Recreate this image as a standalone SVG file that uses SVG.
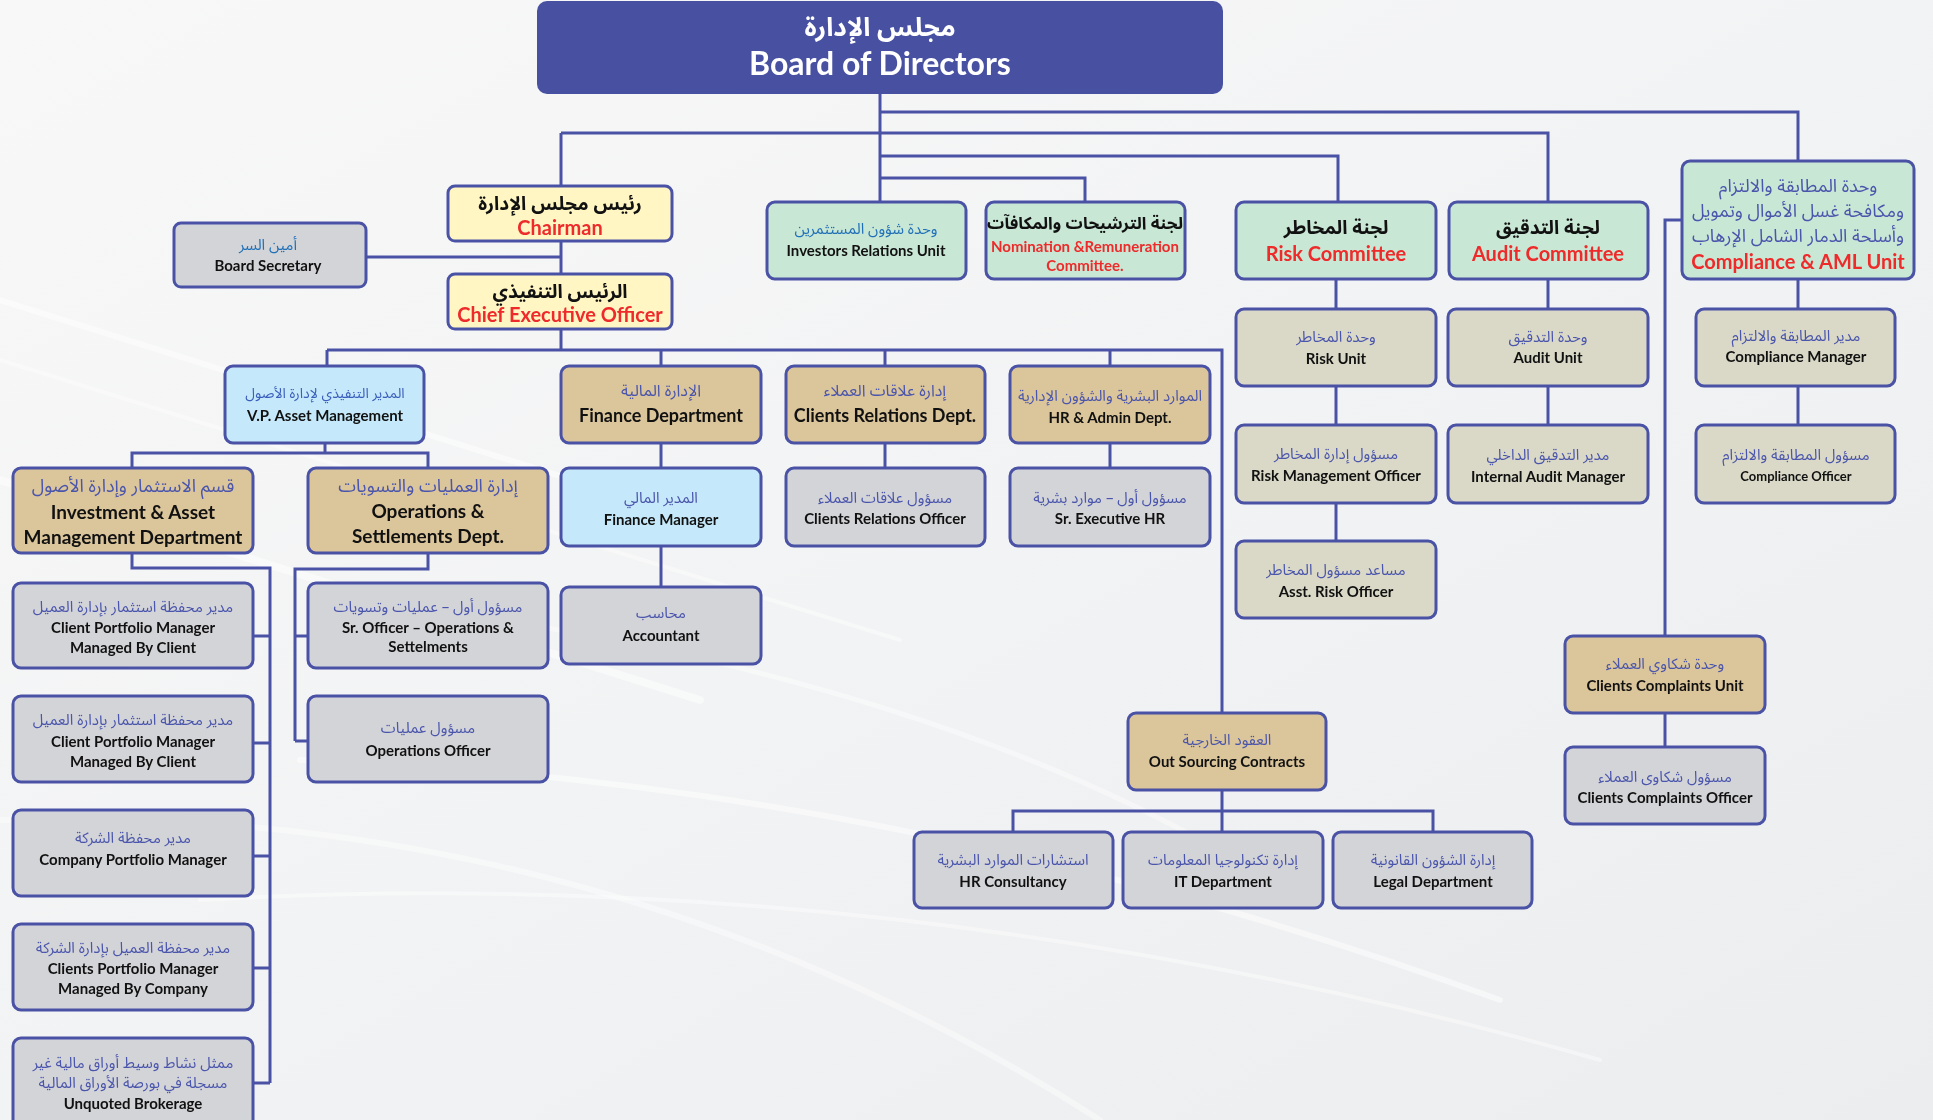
<svg xmlns="http://www.w3.org/2000/svg" width="1933" height="1120" viewBox="0 0 1933 1120">
<defs>
<linearGradient id="bg" x1="0" y1="0" x2="1" y2="1">
<stop offset="0" stop-color="#F8F8F8"/>
<stop offset="0.5" stop-color="#F2F3F4"/>
<stop offset="1" stop-color="#ECEDEF"/>
</linearGradient>
<style>
.box{stroke:#4A52A6;stroke-width:3}
.yel{fill:#FFF6C4}.mint{fill:#C9E7D5}.beige{fill:#DAD9C7}.tan{fill:#DBC59B}.lblue{fill:#C5E9FA}.gray{fill:#D3D4D8}
.ar{font-family:"Noto Sans Arabic","DejaVu Sans",sans-serif;fill:#4A55AC;text-anchor:middle;direction:rtl}
.s{font-size:15px}
.en{font-family:Lato,"Liberation Sans",sans-serif;font-weight:700;fill:#111;text-anchor:middle}
.red{fill:#EE2A2A}
.conn{stroke:#4A52A6;stroke-width:3;fill:none}
.streak{stroke:#FFFFFF;fill:none;stroke-linecap:round}
</style>
</defs>
<rect width="1933" height="1120" fill="url(#bg)"/>
<g opacity="0.8">
<path class="streak" d="M0 300 L700 520" stroke-width="6" opacity="0.6"/>
<path class="streak" d="M0 360 L900 640" stroke-width="4" opacity="0.5"/>
<path class="streak" d="M0 480 L700 700" stroke-width="8" opacity="0.6"/>
<path class="streak" d="M300 760 Q900 780 1500 1000" stroke-width="6" opacity="0.6"/>
<path class="streak" d="M200 900 Q900 860 1600 1060" stroke-width="4" opacity="0.5"/>
<path class="streak" d="M500 620 Q1000 700 1300 900" stroke-width="5" opacity="0.5"/>
<path class="streak" d="M0 820 Q600 800 1100 1120" stroke-width="6" opacity="0.5"/>
</g>

<g id="connectors">
<path class="conn" d="M880 94 V202"/>
<path class="conn" d="M880 112 H1798 V161"/>
<path class="conn" d="M561 133 H1548 V202"/>
<path class="conn" d="M561 133 V186"/>
<path class="conn" d="M880 156 H1338 V202"/>
<path class="conn" d="M880 178 H1085 V202"/>
<path class="conn" d="M561 241 V274"/>
<path class="conn" d="M366 257 H561"/>
<path class="conn" d="M561 329 V350"/>
<path class="conn" d="M327 350 H1222 V713"/>
<path class="conn" d="M327 350 V366"/>
<path class="conn" d="M661 350 V366"/>
<path class="conn" d="M885 350 V366"/>
<path class="conn" d="M1110 350 V366"/>
<path class="conn" d="M325 443 V453"/>
<path class="conn" d="M132 468 V453 H428 V468"/>
<path class="conn" d="M132 553 V568 H270 V1083"/>
<path class="conn" d="M253 636 H270"/>
<path class="conn" d="M253 743 H270"/>
<path class="conn" d="M253 856 H270"/>
<path class="conn" d="M253 968 H270"/>
<path class="conn" d="M253 1083 H270"/>
<path class="conn" d="M428 553 V569 H295 V741"/>
<path class="conn" d="M295 636 H308"/>
<path class="conn" d="M295 741 H308"/>
<path class="conn" d="M661 443 V468"/>
<path class="conn" d="M661 546 V587"/>
<path class="conn" d="M885 443 V468"/>
<path class="conn" d="M1110 443 V468"/>
<path class="conn" d="M1222 790 V811"/>
<path class="conn" d="M1013 832 V811 H1433 V832"/>
<path class="conn" d="M1222 811 V832"/>
<path class="conn" d="M1336 279 V309"/>
<path class="conn" d="M1336 386 V425"/>
<path class="conn" d="M1336 503 V541"/>
<path class="conn" d="M1548 279 V309"/>
<path class="conn" d="M1548 386 V425"/>
<path class="conn" d="M1798 279 V309"/>
<path class="conn" d="M1798 386 V425"/>
<path class="conn" d="M1682 220 H1665 V636"/>
<path class="conn" d="M1665 713 V747"/>
</g>

<g id="board">
<rect x="537" y="1" width="686" height="93" rx="10" fill="#4750A1"/>
<text class="ar" x="880" y="36" font-size="26" font-weight="700" style="fill:#FFFFFF">مجلس الإدارة</text>
<text class="en" x="880" y="75" font-size="32" style="fill:#FFFFFF">Board of Directors</text>
</g>

<g id="chairman">
<rect class="box yel" x="448" y="186" width="224" height="55" rx="7"/>
<text class="ar" x="560" y="210" font-size="19" font-weight="700" style="fill:#111">رئيس مجلس الإدارة</text>
<text class="en red" x="560" y="235" font-size="20">Chairman</text>
</g>

<g id="ceo">
<rect class="box yel" x="448" y="274" width="224" height="55" rx="7"/>
<text class="ar" x="560" y="298" font-size="19" font-weight="700" style="fill:#111">الرئيس التنفيذي</text>
<text class="en red" x="560" y="322" font-size="20">Chief Executive Officer</text>
</g>

<g id="secretary">
<rect class="box gray" x="174" y="223" width="192" height="64" rx="7"/>
<text class="ar s" x="268" y="250" style="fill:#2070B8">أمين السر</text>
<text class="en" x="268" y="271" font-size="15">Board Secretary</text>
</g>

<g id="investors">
<rect class="box mint" x="767" y="202" width="199" height="77" rx="8"/>
<text class="ar s" x="866" y="234" style="fill:#2070B8">وحدة شؤون المستثمرين</text>
<text class="en" x="866" y="256" font-size="15">Investors Relations Unit</text>
</g>

<g id="nomination">
<rect class="box mint" x="986" y="202" width="199" height="77" rx="8"/>
<text class="ar" x="1085" y="229" font-size="17" font-weight="700" style="fill:#111">لجنة الترشيحات والمكافآت</text>
<text class="en red" x="1085" y="252" font-size="15" font-weight="400">Nomination &amp;Remuneration</text>
<text class="en red" x="1085" y="271" font-size="15" font-weight="400">Committee.</text>
</g>

<g id="riskcommittee">
<rect class="box mint" x="1236" y="202" width="200" height="77" rx="8"/>
<text class="ar" x="1336" y="234" font-size="19" font-weight="700" style="fill:#111">لجنة المخاطر</text>
<text class="en red" x="1336" y="261" font-size="20">Risk Committee</text>
</g>

<g id="auditcommittee">
<rect class="box mint" x="1449" y="202" width="199" height="77" rx="8"/>
<text class="ar" x="1548" y="234" font-size="19" font-weight="700" style="fill:#111">لجنة التدقيق</text>
<text class="en red" x="1548" y="261" font-size="20">Audit Committee</text>
</g>

<g id="compliance">
<rect class="box mint" x="1682" y="161" width="232" height="118" rx="8"/>
<text class="ar" x="1798" y="192" font-size="18">وحدة المطابقة والالتزام</text>
<text class="ar" x="1798" y="217" font-size="18">ومكافحة غسل الأموال وتمويل</text>
<text class="ar" x="1798" y="242" font-size="18">وأسلحة الدمار الشامل الإرهاب</text>
<text class="en red" x="1798" y="269" font-size="20">Compliance &amp; AML Unit</text>
</g>

<g id="riskunit">
<rect class="box beige" x="1236" y="309" width="200" height="77" rx="8"/>
<text class="ar s" x="1336" y="342">وحدة المخاطر</text>
<text class="en" x="1336" y="364" font-size="15">Risk Unit</text>
</g>

<g id="riskofficer">
<rect class="box beige" x="1236" y="425" width="200" height="78" rx="8"/>
<text class="ar s" x="1336" y="459">مسؤول إدارة المخاطر</text>
<text class="en" x="1336" y="481" font-size="15">Risk Management Officer</text>
</g>

<g id="asstrisk">
<rect class="box beige" x="1236" y="541" width="200" height="77" rx="8"/>
<text class="ar s" x="1336" y="575">مساعد مسؤول المخاطر</text>
<text class="en" x="1336" y="597" font-size="15">Asst. Risk Officer</text>
</g>

<g id="auditunit">
<rect class="box beige" x="1448" y="309" width="200" height="77" rx="8"/>
<text class="ar s" x="1548" y="342">وحدة التدقيق</text>
<text class="en" x="1548" y="363" font-size="15">Audit Unit</text>
</g>

<g id="internalaudit">
<rect class="box beige" x="1448" y="425" width="200" height="78" rx="8"/>
<text class="ar s" x="1548" y="460">مدير التدقيق الداخلي</text>
<text class="en" x="1548" y="482" font-size="15">Internal Audit Manager</text>
</g>

<g id="compliancemanager">
<rect class="box beige" x="1696" y="309" width="199" height="77" rx="8"/>
<text class="ar s" x="1796" y="341">مدير المطابقة والالتزام</text>
<text class="en" x="1796" y="362" font-size="15">Compliance Manager</text>
</g>

<g id="complianceofficer">
<rect class="box beige" x="1696" y="425" width="199" height="78" rx="8"/>
<text class="ar s" x="1796" y="460">مسؤول المطابقة والالتزام</text>
<text class="en" x="1796" y="481" font-size="13">Compliance Officer</text>
</g>

<g id="complaintsunit">
<rect class="box tan" x="1565" y="636" width="200" height="77" rx="8"/>
<text class="ar s" x="1665" y="669">وحدة شكاوي العملاء</text>
<text class="en" x="1665" y="691" font-size="15">Clients Complaints Unit</text>
</g>

<g id="complaintsofficer">
<rect class="box gray" x="1565" y="747" width="200" height="77" rx="8"/>
<text class="ar s" x="1665" y="782">مسؤول شكاوى العملاء</text>
<text class="en" x="1665" y="803" font-size="15">Clients Complaints Officer</text>
</g>

<g id="outsourcing">
<rect class="box tan" x="1128" y="713" width="198" height="77" rx="8"/>
<text class="ar s" x="1227" y="745">العقود الخارجية</text>
<text class="en" x="1227" y="767" font-size="15">Out Sourcing Contracts</text>
</g>

<g id="hrconsultancy">
<rect class="box gray" x="914" y="832" width="199" height="76" rx="8"/>
<text class="ar s" x="1013" y="865">استشارات الموارد البشرية</text>
<text class="en" x="1013" y="887" font-size="15">HR Consultancy</text>
</g>

<g id="itdept">
<rect class="box gray" x="1123" y="832" width="200" height="76" rx="8"/>
<text class="ar s" x="1223" y="865">إدارة تكنولوجيا المعلومات</text>
<text class="en" x="1223" y="887" font-size="15">IT Department</text>
</g>

<g id="legal">
<rect class="box gray" x="1333" y="832" width="199" height="76" rx="8"/>
<text class="ar s" x="1433" y="865">إدارة الشؤون القانونية</text>
<text class="en" x="1433" y="887" font-size="15">Legal Department</text>
</g>

<g id="vpasset">
<rect class="box lblue" x="225" y="366" width="199" height="77" rx="8"/>
<text class="ar" x="325" y="398" font-size="14" style="fill:#3A5EBC">المدير التنفيذي لإدارة الأصول</text>
<text class="en" x="325" y="421" font-size="15">V.P. Asset Management</text>
</g>

<g id="finance">
<rect class="box tan" x="561" y="366" width="200" height="77" rx="8"/>
<text class="ar" x="661" y="396" font-size="16">الإدارة المالية</text>
<text class="en" x="661" y="422" font-size="18">Finance Department</text>
</g>

<g id="clientsrelations">
<rect class="box tan" x="786" y="366" width="199" height="77" rx="8"/>
<text class="ar" x="885" y="396" font-size="16">إدارة علاقات العملاء</text>
<text class="en" x="885" y="422" font-size="18">Clients Relations Dept.</text>
</g>

<g id="hradmin">
<rect class="box tan" x="1010" y="366" width="200" height="77" rx="8"/>
<text class="ar s" x="1110" y="401">الموارد البشرية والشؤون الإدارية</text>
<text class="en" x="1110" y="423" font-size="15">HR &amp; Admin Dept.</text>
</g>

<g id="financemanager">
<rect class="box lblue" x="561" y="468" width="200" height="78" rx="8"/>
<text class="ar s" x="661" y="503">المدير المالي</text>
<text class="en" x="661" y="525" font-size="15">Finance Manager</text>
</g>

<g id="croff">
<rect class="box gray" x="786" y="468" width="199" height="78" rx="8"/>
<text class="ar s" x="885" y="503">مسؤول علاقات العملاء</text>
<text class="en" x="885" y="524" font-size="15">Clients Relations Officer</text>
</g>

<g id="srhr">
<rect class="box gray" x="1010" y="468" width="200" height="78" rx="8"/>
<text class="ar s" x="1110" y="503">مسؤول أول – موارد بشرية</text>
<text class="en" x="1110" y="524" font-size="15">Sr. Executive HR</text>
</g>

<g id="accountant">
<rect class="box gray" x="561" y="587" width="200" height="77" rx="8"/>
<text class="ar s" x="661" y="618">محاسب</text>
<text class="en" x="661" y="641" font-size="15">Accountant</text>
</g>

<g id="investment">
<rect class="box tan" x="13" y="468" width="240" height="85" rx="8"/>
<text class="ar" x="133" y="492" font-size="18">قسم الاستثمار وإدارة الأصول</text>
<text class="en" x="133" y="519" font-size="19">Investment &amp; Asset</text>
<text class="en" x="133" y="544" font-size="19">Management Department</text>
</g>

<g id="operations">
<rect class="box tan" x="308" y="468" width="240" height="85" rx="8"/>
<text class="ar" x="428" y="492" font-size="18">إدارة العمليات والتسويات</text>
<text class="en" x="428" y="518" font-size="19">Operations &amp;</text>
<text class="en" x="428" y="543" font-size="19">Settlements Dept.</text>
</g>

<g id="cpm1">
<rect class="box gray" x="13" y="583" width="240" height="85" rx="8"/>
<text class="ar s" x="133" y="612">مدير محفظة استثمار بإدارة العميل</text>
<text class="en" x="133" y="633" font-size="15">Client Portfolio Manager</text>
<text class="en" x="133" y="653" font-size="15">Managed By Client</text>
</g>

<g id="sroperations">
<rect class="box gray" x="308" y="583" width="240" height="85" rx="8"/>
<text class="ar s" x="428" y="612">مسؤول أول – عمليات وتسويات</text>
<text class="en" x="428" y="633" font-size="15">Sr. Officer – Operations &amp;</text>
<text class="en" x="428" y="652" font-size="15">Settelments</text>
</g>

<g id="cpm2">
<rect class="box gray" x="13" y="696" width="240" height="86" rx="8"/>
<text class="ar s" x="133" y="725">مدير محفظة استثمار بإدارة العميل</text>
<text class="en" x="133" y="747" font-size="15">Client Portfolio Manager</text>
<text class="en" x="133" y="767" font-size="15">Managed By Client</text>
</g>

<g id="opsofficer">
<rect class="box gray" x="308" y="696" width="240" height="86" rx="8"/>
<text class="ar s" x="428" y="733">مسؤول عمليات</text>
<text class="en" x="428" y="756" font-size="15">Operations Officer</text>
</g>

<g id="companypm">
<rect class="box gray" x="13" y="810" width="240" height="86" rx="8"/>
<text class="ar s" x="133" y="843">مدير محفظة الشركة</text>
<text class="en" x="133" y="865" font-size="15">Company Portfolio Manager</text>
</g>

<g id="cpmcompany">
<rect class="box gray" x="13" y="924" width="240" height="86" rx="8"/>
<text class="ar s" x="133" y="953">مدير محفظة العميل بإدارة الشركة</text>
<text class="en" x="133" y="974" font-size="15">Clients Portfolio Manager</text>
<text class="en" x="133" y="994" font-size="15">Managed By Company</text>
</g>

<g id="unquoted">
<rect class="box gray" x="13" y="1038" width="240" height="100" rx="8"/>
<text class="ar s" x="133" y="1068">ممثل نشاط وسيط أوراق مالية غير</text>
<text class="ar s" x="133" y="1088">مسجلة في بورصة الأوراق المالية</text>
<text class="en" x="133" y="1109" font-size="15">Unquoted Brokerage</text>
</g>
</svg>
